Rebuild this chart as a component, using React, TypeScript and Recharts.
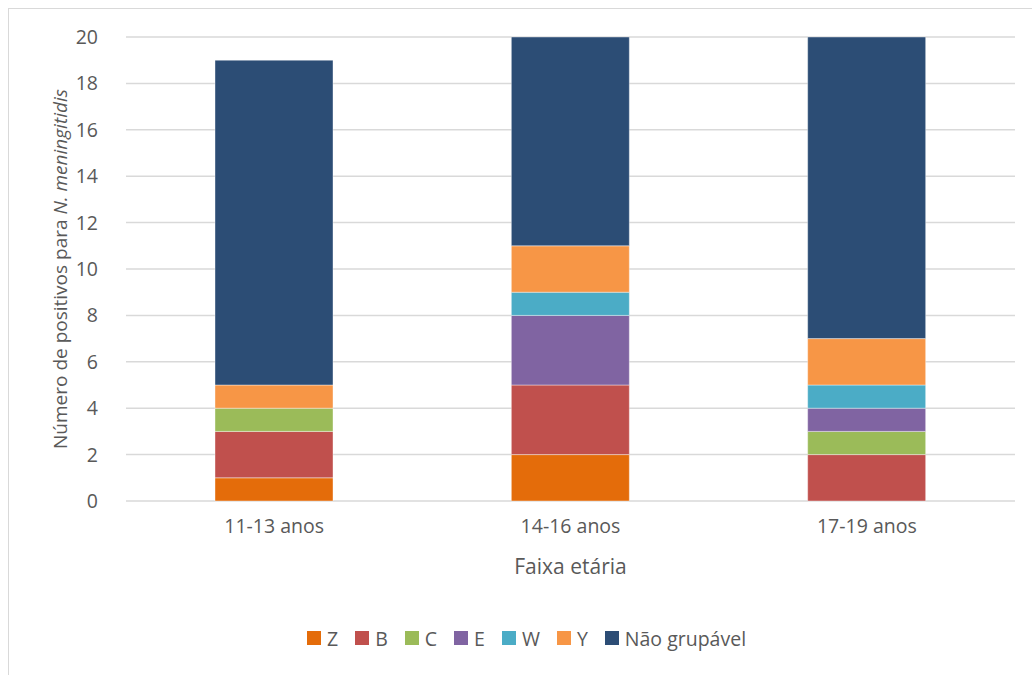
import React from 'react';
import { BarChart, Bar, XAxis, YAxis, CartesianGrid } from 'recharts';

const categories = ['11-13 anos', '14-16 anos', '17-19 anos'];
const seriesNames = ['Z', 'B', 'C', 'E', 'W', 'Y', 'Não grupável'];
const seriesColors = ['#E46C0A', '#C0504D', '#9BBB59', '#8064A2', '#4BACC6', '#F79646', '#2C4D75'];
const zValues = [1, 2, 0];
const bValues = [2, 3, 2];
const cValues = [1, 0, 1];
const eValues = [0, 3, 1];
const wValues = [0, 1, 1];
const yValues = [1, 2, 2];
const ngValues = [14, 9, 13];
const yTicks = [0, 2, 4, 6, 8, 10, 12, 14, 16, 18, 20];

const seriesValues = [zValues, bValues, cValues, eValues, wValues, yValues, ngValues];

const data = categories.map((name, i) => {
    const row: Record<string, string | number> = { name };
    seriesNames.forEach((s, k) => {
        row[s] = seriesValues[k][i];
    });
    return row;
});

const FONT = 'Open Sans, Liberation Sans, sans-serif';
const TEXT = '#595959';

const YTitle = (props: any) => {
    const vb = props.viewBox || {};
    const cx = 60;
    const cy = vb.y + vb.height / 2;
    return (
        <text
            x={cx}
            y={cy}
            transform={`rotate(-90, ${cx}, ${cy})`}
            textAnchor="middle"
            dominantBaseline="central"
            fill={TEXT}
            fontSize={19}
            fontFamily={FONT}
        >
            Número de positivos para <tspan fontStyle="italic">N. meningitidis</tspan>
        </text>
    );
};

export default function App() {
    return (
        <div style={{ position: 'absolute', left: 0, top: 0, width: 1032, height: 675, background: '#fff', overflow: 'hidden' }}>
            <div style={{ position: 'absolute', left: 8, top: 8, width: 1040, height: 700, borderLeft: '1.5px solid #d9d9d9', borderTop: '1.5px solid #d9d9d9' }} />
            <BarChart
                width={1032}
                height={675}
                data={data}
                margin={{ top: 37, right: 17, left: 0, bottom: 0 }}
                barSize={118}
                style={{ position: 'absolute', left: 0, top: 0 }}
            >
                <CartesianGrid vertical={false} stroke="#d9d9d9" strokeWidth={1.5} />
                <XAxis
                    dataKey="name"
                    axisLine={false}
                    tickLine={false}
                    height={174}
                    tickMargin={12}
                    tick={{ fill: TEXT, fontSize: 19.5, fontFamily: FONT }}
                    label={{ value: 'Faixa etária', position: 'insideTop', offset: 58, fill: TEXT, fontSize: 21, fontFamily: FONT }}
                />
                <YAxis
                    width={126}
                    domain={[0, 20]}
                    ticks={yTicks}
                    interval={0}
                    axisLine={false}
                    tickLine={false}
                    tickMargin={22}
                    tick={{ fill: TEXT, fontSize: 19.5, fontFamily: FONT }}
                    label={<YTitle />}
                />
                {seriesNames.map((s, i) => (
                    <Bar
                        key={s}
                        dataKey={s}
                        stackId="a"
                        fill={seriesColors[i]}
                        stroke="#ffffff"
                        strokeWidth={0.4}
                        isAnimationActive={false}
                    />
                ))}
            </BarChart>
            <div style={{ position: 'absolute', left: 307, top: 625, display: 'flex', alignItems: 'center', height: 26, fontFamily: FONT, fontSize: 19.5, color: TEXT }}>
                {seriesNames.map((s, i) => (
                    <div key={s} style={{ display: 'flex', alignItems: 'center', marginRight: i < seriesNames.length - 1 ? 17 : 0 }}>
                        <span style={{ width: 14, height: 14, background: seriesColors[i], marginRight: 6, display: 'inline-block' }} />
                        <span>{s}</span>
                    </div>
                ))}
            </div>
        </div>
    );
}
